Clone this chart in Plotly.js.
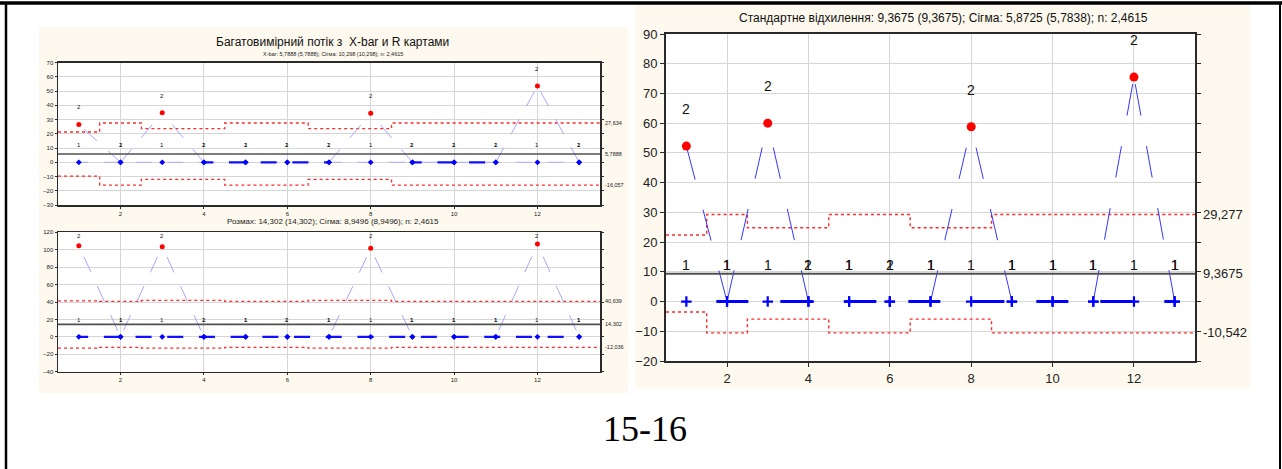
<!DOCTYPE html>
<html><head><meta charset="utf-8">
<script src="https://cdn.plot.ly/plotly-3.0.1.min.js"></script>
<style>html,body{margin:0;padding:0;background:#fff;}#chart{width:1282px;height:469px;}</style>
</head><body><div id="chart"></div>
<script>
// ---------- DATA ----------
const samples = [1,2,3,4,5,6,7,8,9,10,11,12,13];

// X-bar chart (multiple stream: max stream and min stream per sample)
const xbarMax = [26.6, 0, 34.8, 0, 0, 0, 0, 34.4, 0, 0, 0, 53.6, 0];
const xbarMin = [0, 0, 0, 0, 0, 0, 0, 0, 0, 0, 0, 0, 0];
const xbarUCL = [21.3, 27.634, 23.7, 23.7, 27.634, 27.634, 23.7, 23.7, 27.634, 27.634, 27.634, 27.634, 27.634];
const xbarLCL = [-9.7, -16.057, -12.0, -12.0, -16.057, -16.057, -12.0, -12.0, -16.057, -16.057, -16.057, -16.057, -16.057];
const xbarCL = 5.7888;
const xbarMaxLabels = ['2','2','2','2','2','2','2','2','2','2','2','2','2'];
const xbarMinLabels = ['1','1','1','1','1','1','1','1','1','1','1','1','1'];

// R chart
const rMax = [104.6, 0, 103.5, 0, 0, 0, 0, 101.6, 0, 0, 0, 106.6, 0];
const rMin = [0, 0, 0, 0, 0, 0, 0, 0, 0, 0, 0, 0, 0];
const rUCL = [41.4, 40.639, 41.8, 41.8, 40.639, 40.639, 41.8, 41.8, 40.639, 40.639, 40.639, 40.639, 40.639];
const rLCL = [-13.0, -12.036, -13.0, -13.0, -12.036, -12.036, -13.0, -13.0, -12.036, -12.036, -12.036, -12.036, -12.036];
const rCL = 14.302;
const rMaxLabels = ['2','1','2','2','1','2','1','2','1','1','1','2','1'];
const rMinLabels = ['1','1','1','1','1','1','1','1','1','1','1','1','1'];

// S chart
const sMax = [52.3, 0, 60.0, 0, 0, 0, 0, 58.8, 0, 0, 0, 75.5, 0];
const sMin = [0, 0, 0, 0, 0, 0, 0, 0, 0, 0, 0, 0, 0];
const sUCL = [22.4, 29.277, 24.8, 24.8, 29.277, 29.277, 24.8, 24.8, 29.277, 29.277, 29.277, 29.277, 29.277];
const sLCL = [-3.5, -10.542, -5.9, -5.9, -10.542, -10.542, -5.9, -5.9, -10.542, -10.542, -10.542, -10.542, -10.542];
const sCL = 9.3675;
const sMaxLabels = ['2','1','2','2','1','2','1','2','1','1','1','2','1'];
const sMinLabels = ['1','1','1','1','1','1','1','1','1','1','1','1','1'];

const titleMain = 'Багатовимірний потік з\u00a0\u00a0X-bar и R картами';
const titleXbar = 'X-bar: 5,7888 (5,7888); Сігма: 10,298 (10,298); n: 2,4615';
const titleR = 'Розмах: 14,302 (14,302); Сігма: 8,9496 (8,9496); n: 2,4615';
const titleS = 'Стандартне відхилення: 9,3675 (9,3675); Сігма: 5,8725 (5,7838); n: 2,4615';
const pageLabel = '15-16';

// ---------- LAYOUT HELPERS ----------
const W = 1282, H = 469;
const PX = x => x / W, PY = y => 1 - y / H;
const X_RANGE = [0.5, 13.5];
const FONT = 'Liberation Sans, Arial, sans-serif';
const fmt = v => String(v).replace('.', ',');

const charts = [
  {xa:'x', ya:'y', maxV:xbarMax, minV:xbarMin, ucl:xbarUCL, lcl:xbarLCL, cl:xbarCL,
   maxL:xbarMaxLabels, minL:xbarMinLabels,
   st:{maxColor:'#9c9cff', maxW:0.9, maxDash:'17px,15px', minColor:'#a4a4ff', minW:0.9, minThinWhereDistinct:true,
       overColor:'#1010ff', overW:2.2, minDash:'9.3px,15.7px,6.7px,0px', limW:1.3, clW:1.6,
       labOff:12, labMax:67, labSize:6, mSizeBlue:4.5, mSizeRed:5, blueSym:'diamond', edgeSize:5.5, edgeShift:3}},
  {xa:'x2', ya:'y2', maxV:rMax, minV:rMin, ucl:rUCL, lcl:rLCL, cl:rCL,
   maxL:rMaxLabels, minL:rMinLabels,
   st:{maxColor:'#9c9cff', maxW:0.9, maxDash:'0px,7px,17px,8px', minColor:'#1010ff', minW:2.2, minThinWhereDistinct:false,
       minDash:'9.3px,15.7px,6.7px,0px', limW:1.3, clW:1.6,
       labOff:19, labMax:116, labSize:6, mSizeBlue:4.5, mSizeRed:5, blueSym:'diamond', edgeSize:5.5, edgeShift:3}},
  {xa:'x3', ya:'y3', maxV:sMax, minV:sMin, ucl:sUCL, lcl:sLCL, cl:sCL,
   maxL:sMaxLabels, minL:sMinLabels,
   st:{maxColor:'#3535ff', maxW:1, maxDash:'32px,31px', minColor:'#0000ff', minW:3, minThinWhereDistinct:false,
       minDash:'0px,30px,32px,2px', limW:1.4, clW:2,
       labOff:12.4, labMax:88, labSize:14, mSizeBlue:7.5, mSizeRed:9, blueSym:'cross-thin', edgeSize:13, edgeShift:6}}
];

const traces = [];
const annotations = [];
const shapes = [];

// panels
shapes.push({type:'rect', xref:'paper', yref:'paper', x0:PX(39), x1:PX(628), y0:PY(393), y1:PY(27), fillcolor:'#fdf9ee', line:{width:0}, layer:'below'});
shapes.push({type:'rect', xref:'paper', yref:'paper', x0:PX(635), x1:PX(1250), y0:PY(388), y1:PY(5), fillcolor:'#fdf9ee', line:{width:0}, layer:'below'});

charts.forEach(c => {
  const st = c.st;
  const dom = c.xa === 'x' ? '' : c.xa.slice(1);
  shapes.push({type:'rect', xref:'x'+dom+' domain', yref:'y'+dom+' domain', x0:0, x1:1, y0:0, y1:1, fillcolor:'#ffffff', line:{width:0}, layer:'below'});
  // limits (stepped)
  const xs = [X_RANGE[0], ...samples, X_RANGE[1]];
  [c.ucl, c.lcl].forEach(arr => {
    traces.push({x:xs, y:[arr[0], ...arr, arr[arr.length-1]], xaxis:c.xa, yaxis:c.ya, mode:'lines',
      line:{shape:'hvh', color:'#ff2a2a', dash:'dot', width:st.limW}, hoverinfo:'skip'});
  });
  // centre line
  shapes.push({type:'line', xref:'x'+dom+' domain', yref:c.ya, x0:0, x1:1, y0:c.cl, y1:c.cl, line:{color:'#505050', width:st.clW}});
  // min stream line
  traces.push({x:samples, y:c.minV, xaxis:c.xa, yaxis:c.ya, mode:'lines',
    line:{color:st.minColor, width:st.minW, dash:st.minDash}, hoverinfo:'skip'});
  if (st.minThinWhereDistinct) {
    traces.push({x:samples, y:c.minV.map((v,i) => v === c.maxV[i] ? v : null), xaxis:c.xa, yaxis:c.ya, mode:'lines',
      connectgaps:false, line:{color:st.overColor, width:st.overW, dash:st.minDash}, hoverinfo:'skip'});
  }
  // max stream line, segment by segment from the lower end
  for (let i = 0; i < c.maxV.length - 1; i++) {
    const a = c.maxV[i], b = c.maxV[i+1];
    if (a === b) continue;
    const up = a <= b;
    traces.push({x: up ? [samples[i], samples[i+1]] : [samples[i+1], samples[i]],
      y: up ? [a, b] : [b, a], xaxis:c.xa, yaxis:c.ya, mode:'lines',
      line:{color:st.maxColor, width:st.maxW, dash:st.maxDash}, hoverinfo:'skip'});
  }
  // markers
  const bx = [], by = [], rx = [], ry = [];
  samples.forEach((s,i) => {
    bx.push(s); by.push(c.minV[i]);
    if (c.maxV[i] > c.ucl[i]) { rx.push(s); ry.push(c.maxV[i]); } else { bx.push(s); by.push(c.maxV[i]); }
  });
  const blueMarker = st.blueSym === 'cross-thin'
    ? {symbol:'cross-thin', size:st.mSizeBlue, color:'#0000ff', line:{width:2.2, color:'#0000ff'}}
    : {symbol:st.blueSym, size:st.mSizeBlue, color:'#0000ff', line:{width:0}};
  traces.push({x:bx, y:by, xaxis:c.xa, yaxis:c.ya, mode:'markers', marker:blueMarker, hoverinfo:'skip'});
  traces.push({x:rx, y:ry, xaxis:c.xa, yaxis:c.ya, mode:'markers', marker:{symbol:'circle', size:st.mSizeRed, color:'#ff0000', line:{width:0}}, hoverinfo:'skip'});
  // point labels
  samples.forEach((s,i) => {
    annotations.push({x:s, y:Math.min(c.minV[i] + st.labOff, st.labMax), xref:c.xa, yref:c.ya, text:c.minL[i], showarrow:false,
      font:{family:FONT, size:st.labSize, color:'#111'}, xanchor:'center', yanchor:'middle'});
    annotations.push({x:s, y:Math.min(c.maxV[i] + st.labOff, st.labMax), xref:c.xa, yref:c.ya, text:c.maxL[i], showarrow:false,
      font:{family:FONT, size:st.labSize, color:'#111'}, xanchor:'center', yanchor:'middle'});
  });
  // right-edge limit labels
  [c.ucl[c.ucl.length-1], c.cl, c.lcl[c.lcl.length-1]].forEach(v => {
    annotations.push({x:1, xref:'x'+dom+' domain', y:v, yref:c.ya, text:fmt(v), showarrow:false, xanchor:'left', yanchor:'middle',
      xshift:st.edgeShift, font:{family:FONT, size:st.edgeSize, color:'#222'}});
  });
});

// titles
annotations.push({x:PX(332), y:PY(42), xref:'paper', yref:'paper', text:titleMain, showarrow:false, font:{family:FONT, size:12, color:'#111'}, xanchor:'center', yanchor:'middle'});
annotations.push({x:PX(333), y:PY(54), xref:'paper', yref:'paper', text:titleXbar, showarrow:false, font:{family:FONT, size:5.5, color:'#222'}, xanchor:'center', yanchor:'middle'});
annotations.push({x:PX(333), y:PY(222), xref:'paper', yref:'paper', text:titleR, showarrow:false, font:{family:FONT, size:8, color:'#222'}, xanchor:'center', yanchor:'middle'});
annotations.push({x:PX(943), y:PY(18), xref:'paper', yref:'paper', text:titleS, showarrow:false, font:{family:FONT, size:12, color:'#111'}, xanchor:'center', yanchor:'middle'});
annotations.push({x:PX(645), y:PY(429), xref:'paper', yref:'paper', text:pageLabel, showarrow:false, font:{family:'Liberation Serif, Times New Roman, serif', size:36, color:'#000'}, xanchor:'center', yanchor:'middle'});

// page frame
shapes.push({type:'line', xref:'paper', yref:'paper', x0:0, x1:1, y0:PY(3), y1:PY(3), line:{color:'#000', width:3.5}});
shapes.push({type:'line', xref:'paper', yref:'paper', x0:PX(6), x1:PX(6), y0:0, y1:PY(2), line:{color:'#000', width:2.5}});
shapes.push({type:'line', xref:'paper', yref:'paper', x0:PX(1280), x1:PX(1280), y0:0, y1:PY(2), line:{color:'#000', width:2}});

function xAx(domain, anchor, fs, lw, tl) {
  return {domain, anchor, range:X_RANGE, tick0:0, dtick:2, showgrid:true, gridcolor:'#d6d6d6', gridwidth:1, zeroline:false,
    showline:true, mirror:true, linecolor:'#2a2a2a', linewidth:lw, ticks:'outside', ticklen:tl, tickcolor:'#2a2a2a',
    tickfont:{family:FONT, size:fs, color:'#222'}, fixedrange:true};
}
function yAx(domain, anchor, range, dtick, fs, lw, tl) {
  return {domain, anchor, range, tick0:0, dtick, showgrid:true, gridcolor:'#d6d6d6', gridwidth:1, zeroline:false,
    showline:true, mirror:'ticks', linecolor:'#2a2a2a', linewidth:lw, ticks:'outside', ticklen:tl, tickcolor:'#2a2a2a',
    tickfont:{family:FONT, size:fs, color:'#222'}, fixedrange:true};
}

const layout = {
  width:W, height:H, margin:{l:0, r:0, t:0, b:0}, paper_bgcolor:'#ffffff', plot_bgcolor:'#ffffff',
  showlegend:false, hovermode:false,
  xaxis: xAx([PX(58), PX(600)], 'y', 6, 1.5, 2),
  yaxis: yAx([PY(205), PY(62.7)], 'x', [-30, 70], 10, 6, 1.5, 2),
  xaxis2: xAx([PX(58), PX(600)], 'y2', 6, 1.5, 2),
  yaxis2: yAx([PY(371.7), PY(232.3)], 'x2', [-40, 120], 20, 6, 1.5, 2),
  xaxis3: xAx([PX(666), PX(1195)], 'y3', 13, 2, 4),
  yaxis3: yAx([PY(361), PY(34)], 'x3', [-20, 90], 10, 13, 2, 4),
  shapes, annotations
};

Plotly.newPlot('chart', traces, layout, {staticPlot:true, displayModeBar:false});
</script>
</body></html>
